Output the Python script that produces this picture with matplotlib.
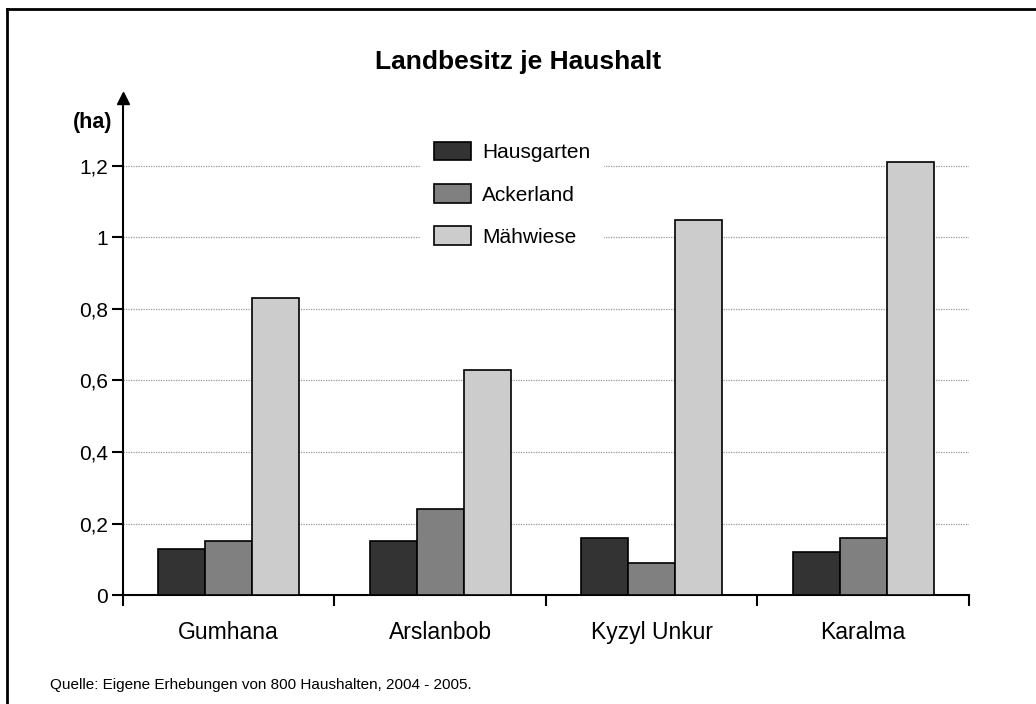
import numpy as np
import matplotlib
matplotlib.use("Agg")
import matplotlib.pyplot as plt
from matplotlib.lines import Line2D

plt.rcParams['font.family'] = ['Liberation Sans', 'DejaVu Sans']

villages = ["Gumhana", "Arslanbob", "Kyzyl Unkur", "Karalma"]
hausgarten = [0.13, 0.15, 0.16, 0.12]
ackerland = [0.15, 0.24, 0.09, 0.16]
maehwiese = [0.83, 0.63, 1.05, 1.21]
series_names = ["Hausgarten", "Ackerland", "Mähwiese"]
colors = ["#333333", "#808080", "#cccccc"]
yticks = [0, 0.2, 0.4, 0.6, 0.8, 1.0, 1.2]
ytick_labels = ["0", "0,2", "0,4", "0,6", "0,8", "1", "1,2"]

fig = plt.figure(figsize=(10.36, 7.04), dpi=100)
ax = fig.add_axes([0.1187, 0.1548, 0.8166, 0.706])

x = np.arange(len(villages))
w = 0.222
for i, (vals, name, c) in enumerate(zip([hausgarten, ackerland, maehwiese], series_names, colors)):
    ax.bar(x + (i - 1) * w, vals, w, color=c, edgecolor="black", linewidth=1.2,
           label=name, zorder=3)

ax.set_xlim(-0.5, 3.5)
ax.set_ylim(0, 1.39)
ax.set_yticks(yticks)
ax.set_yticklabels(ytick_labels, fontsize=15)
ax.set_xticks(np.arange(-0.5, 3.6, 1.0))
ax.set_xticklabels([])
ax.set_xticks(x, minor=True)
ax.set_xticklabels(villages, minor=True, fontsize=16.5)
ax.tick_params(axis="x", which="minor", length=0, pad=19)
ax.tick_params(axis="x", which="major", direction="out", length=8, width=1.5)
ax.tick_params(axis="y", direction="out", length=8, width=1.5, pad=3)

for s in ["top", "right"]:
    ax.spines[s].set_visible(False)
for s in ["left", "bottom"]:
    ax.spines[s].set_linewidth(1.5)
ax.plot(0, 1, marker="^", color="black", markersize=9, transform=ax.transAxes, clip_on=False)

for yv in yticks[1:]:
    ax.axhline(yv, color="#999999", linestyle=(0, (1, 1)), linewidth=0.9, zorder=1)

ax.text(-0.012, 0.95, "(ha)", transform=ax.transAxes, fontsize=15.5, fontweight="bold",
        ha="right", va="center")

leg = ax.legend(loc="upper left", bbox_to_anchor=(0.34, 0.958), fontsize=15,
                frameon=True, fancybox=False, edgecolor="white", framealpha=1,
                handlelength=1.78, handleheight=1.0, handletextpad=0.55,
                labelspacing=1.05, borderpad=0.6)
leg.set_zorder(5)

fig.text(0.5, 0.912, "Landbesitz je Haushalt", ha="center", va="center",
         fontsize=19, fontweight="bold")
fig.text(0.048, 0.027, "Quelle: Eigene Erhebungen von 800 Haushalten, 2004 - 2005.",
         ha="left", va="center", fontsize=11)

# outer frame (top and left edges visible)
fig.add_artist(Line2D([0.0063, 1.0], [0.987, 0.987], transform=fig.transFigure,
                      color="black", linewidth=2))
fig.add_artist(Line2D([0.0063, 0.0063], [0.0, 0.987], transform=fig.transFigure,
                      color="black", linewidth=2))

fig.savefig("out.png", dpi=100)
